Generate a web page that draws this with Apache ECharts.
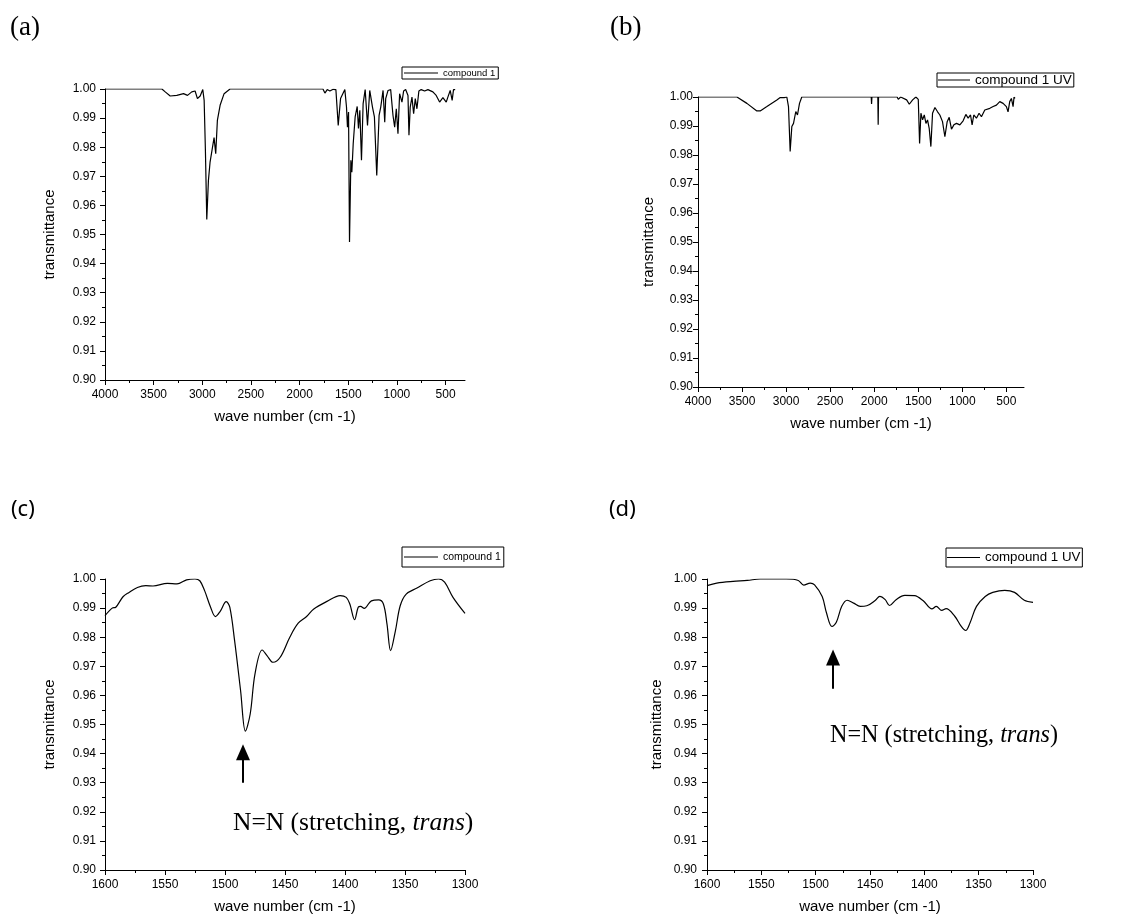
<!DOCTYPE html>
<html>
<head>
<meta charset="utf-8">
<title>FT-IR spectra of compound 1</title>
<script src="https://cdn.jsdelivr.net/npm/echarts@6/dist/echarts.min.js"></script>
<style>
  html, body { margin: 0; padding: 0; background: #ffffff; }
  #chart { width: 1136px; height: 917px; }
</style>
</head>
<body>
<div id="chart"></div>
<script>
// ---------------- spectra (wave number in cm-1, transmittance) ----------------
// (a) compound 1, full range
const wnA = [4000,3700,3450,3415,3381,3330,3262,3193,3152,3108,3074,3050,3022,2995,2981,2968,2954,2937,2920,2903,2879,2862,2845,2817,2776,2715,2100,1760,1740,1716,1689,1655,1627,1603,1579,1535,1518,1508,1497,1487,1473,1463,1449,1429,1408,1395,1381,1364,1347,1326,1302,1279,1251,1231,1207,1183,1166,1142,1125,1115,1091,1064,1040,1023,1006,989,972,948,931,910,886,876,863,845,828,811,794,774,750,715,681,630,596,561,527,493,476,452,432,418,401];
const trA = [1.0,1.0,1.0,1.0,0.999,0.9976,0.9978,0.9984,0.9978,0.999,0.9993,0.9967,0.9976,0.9998,0.9961,0.9789,0.9552,0.9686,0.9749,0.9755,0.9833,0.9778,0.9892,0.9944,0.9984,1.0,1.0,1.0,0.9986,0.9998,0.9993,0.9999,0.9998,0.9875,0.9967,0.9998,0.9938,0.9869,0.9921,0.9474,0.9755,0.9714,0.9812,0.9904,0.994,0.9864,0.9927,0.9755,0.995,0.9998,0.9875,0.9995,0.9938,0.9904,0.9703,0.9909,0.9938,0.9995,0.9886,0.9967,0.9995,0.9998,0.9909,0.9869,0.9932,0.9846,0.9984,0.9955,0.9993,0.9998,0.9978,0.9841,0.9938,0.9972,0.9915,0.9967,0.9932,0.9993,0.9998,0.9993,0.9998,0.999,0.9978,0.9955,0.997,0.9955,0.9972,0.9995,0.9961,0.9998,0.9998];

// (b) compound 1 after UV irradiation, full range
const wnB = [4000,3558,3445,3332,3294,3218,3105,3067,3048,3022,2992,2973,2954,2935,2916,2890,2871,2848,2822,2034,2030,2026,1959,1955,1951,1740,1727,1700,1632,1602,1564,1527,1500,1485,1470,1451,1432,1413,1395,1376,1357,1338,1311,1281,1255,1225,1198,1172,1149,1123,1096,1066,1028,991,960,934,907,889,870,840,810,783,745,688,650,613,575,537,500,481,462,443,424,413,402];
const trB = [1.0,1.0,0.9978,0.9952,0.9952,0.9967,0.999,0.9998,0.9992,0.9998,1.0,0.9967,0.9812,0.9898,0.9909,0.995,0.9938,0.9978,1.0,1.0,0.9976,1.0,1.0,0.9904,1.0,1.0,0.9992,1.0,0.999,0.9975,0.999,1.0,0.9992,0.984,0.9944,0.9921,0.9938,0.9909,0.9921,0.9892,0.9829,0.9944,0.9964,0.9949,0.9938,0.9915,0.9863,0.9915,0.993,0.9889,0.9904,0.9909,0.9904,0.9918,0.994,0.9927,0.9938,0.9904,0.9938,0.9927,0.9944,0.9932,0.9955,0.9961,0.9967,0.9972,0.9984,0.9978,0.9967,0.9949,0.9984,0.9995,0.9967,1.0,0.9995];

// (c) compound 1, 1600-1300 cm-1
const wnC = [1600,1594,1591,1585,1580,1573,1566,1560,1548,1540,1532,1525,1521,1517,1512,1508,1504,1499,1496,1492,1487,1483,1479,1475,1469,1465,1460,1454,1446,1439,1432,1426,1415,1404,1399,1396,1392,1389,1387,1384,1378,1372,1368,1365,1362,1358,1354,1349,1340,1329,1322,1317,1310,1300];
const trC = [0.9874,0.990,0.9903,0.9939,0.9954,0.9971,0.9977,0.9976,0.9985,0.9983,0.9997,1.0,0.9994,0.996,0.9903,0.9871,0.9889,0.9922,0.9903,0.9788,0.9616,0.9477,0.9536,0.9674,0.9756,0.9737,0.9714,0.9731,0.980,0.9848,0.9871,0.9897,0.9923,0.9943,0.9937,0.9914,0.986,0.9903,0.9906,0.9899,0.9925,0.9928,0.9914,0.9845,0.9754,0.9822,0.9908,0.9948,0.9969,0.9994,1.0,0.9989,0.9937,0.9882];

// (d) compound 1 after UV irradiation, 1600-1300 cm-1
const wnD = [1600,1591,1576,1563,1551,1527,1516,1511,1505,1501,1494,1490,1485,1481,1476,1471,1465,1459,1453,1445,1441,1436,1432,1426,1418,1409,1401,1393,1389,1384,1380,1372,1366,1362,1358,1352,1344,1337,1326,1317,1308,1300];
const trD = [0.9977,0.9986,0.9992,0.9995,1.0,1.0,0.9995,0.9979,0.9986,0.998,0.994,0.9883,0.9837,0.9851,0.9906,0.9927,0.9917,0.9906,0.9908,0.9927,0.994,0.9929,0.9909,0.9929,0.9944,0.9943,0.9925,0.9897,0.9906,0.9892,0.9898,0.9872,0.9837,0.9823,0.9849,0.9906,0.994,0.9954,0.9961,0.9954,0.9927,0.992];

// tick values of the wide wave-number axes
const wideMajorTicks = [4000,3500,3000,2500,2000,1500,1000,500];
const wideMinorTicks = [3750,3250,2750,2250,1750,1250,750];

// series names
const nameDark = 'compound 1';
const nameUV = 'compound 1 UV';

// N=N band marker (wave number, arrow tail and head transmittance)
const bandC = { wn: 1485, from: 0.930, to: 0.9405 };
const bandD = { wn: 1484, from: 0.9623, to: 0.9730 };
const bandText = 'N=N (stretching, trans)';

// ---------------- layout ----------------
const SANS = '"Liberation Sans", Arial, sans-serif';
const SERIF = '"Liberation Serif", "Times New Roman", serif';
const grids = [
  { left: 105, top: 89, width: 360, height: 291 },   // (a)
  { left: 698, top: 97, width: 326, height: 290 },   // (b)
  { left: 105, top: 579, width: 360, height: 291 },  // (c)
  { left: 707, top: 579, width: 326, height: 291 }   // (d)
];

const zip = (xs, ys) => xs.slice(0, Math.min(xs.length, ys.length)).map((x, i) => [x, ys[i]]);

const axisLineStyle = { color: '#000', width: 1 };
const tickLabel = { color: '#000', fontSize: 12, fontFamily: SANS };
const titleText = { color: '#000', fontSize: 15, fontFamily: SANS };
const plainNumber = v => String(Math.round(v));

function wideX(gridIndex, labelMargin) {
  return {
    type: 'value', gridIndex, min: 300, max: 4000, inverse: true, position: 'bottom',
    axisLine: { show: true, onZero: false, lineStyle: axisLineStyle },
    axisTick: { show: true, length: 5, customValues: wideMajorTicks, lineStyle: axisLineStyle },
    axisLabel: { show: true, customValues: wideMajorTicks, margin: labelMargin, formatter: plainNumber, ...tickLabel },
    splitLine: { show: false },
    name: 'wave number (cm -1)', nameLocation: 'middle', nameGap: 29, nameTextStyle: titleText
  };
}
function wideXMinor(gridIndex) {
  return {
    type: 'value', gridIndex, min: 300, max: 4000, inverse: true, position: 'bottom',
    axisLine: { show: false, onZero: false },
    axisTick: { show: true, length: 3, customValues: wideMinorTicks, lineStyle: axisLineStyle },
    axisLabel: { show: false },
    splitLine: { show: false }
  };
}
function narrowX(gridIndex) {
  return {
    type: 'value', gridIndex, min: 1300, max: 1600, interval: 50, inverse: true, position: 'bottom',
    axisLine: { show: true, onZero: false, lineStyle: axisLineStyle },
    axisTick: { show: true, length: 5, lineStyle: axisLineStyle },
    minorTick: { show: true, splitNumber: 2, length: 3, lineStyle: axisLineStyle },
    axisLabel: { show: true, margin: 9, formatter: plainNumber, ...tickLabel },
    splitLine: { show: false }, minorSplitLine: { show: false },
    name: 'wave number (cm -1)', nameLocation: 'middle', nameGap: 29, nameTextStyle: titleText
  };
}
function transY(gridIndex, labelMargin, nameGap) {
  return {
    type: 'value', gridIndex, min: 0.9, max: 1.0, interval: 0.01,
    axisLine: { show: true, onZero: false, lineStyle: axisLineStyle },
    axisTick: { show: true, length: 5, lineStyle: axisLineStyle },
    minorTick: { show: true, splitNumber: 2, length: 3, lineStyle: axisLineStyle },
    axisLabel: { show: true, margin: labelMargin, formatter: v => v.toFixed(2), ...tickLabel },
    splitLine: { show: false }, minorSplitLine: { show: false },
    name: 'transmittance', nameLocation: 'middle', nameGap, nameTextStyle: titleText
  };
}

function spectrum(name, xi, yi, data, smooth, extra) {
  return Object.assign({
    type: 'line', name, xAxisIndex: xi, yAxisIndex: yi, data,
    symbol: 'none', showSymbol: false, smooth,
    lineStyle: { color: '#000', width: 1.2 }, itemStyle: { color: '#000' },
    emphasis: { disabled: true }
  }, extra || {});
}

function bandArrow(band) {
  return {
    silent: true, symbol: ['none', 'triangle'], symbolSize: [14, 16],
    lineStyle: { color: '#000', width: 2, type: 'solid' },
    label: { show: false }, emphasis: { disabled: true },
    data: [[{ coord: [band.wn, band.from] }, { coord: [band.wn, band.to] }]]
  };
}

// boxed legend with a plain line sample
function legendBox(left, top, name, fontSize, lineHeight, padding, itemWidth) {
  return {
    left, top, data: [{ name, icon: 'rect' }], selectedMode: false, orient: 'horizontal',
    borderColor: '#000', borderWidth: 1, borderRadius: 0, padding,
    itemWidth, itemHeight: 1, itemGap: 0,
    itemStyle: { color: '#000', borderWidth: 0 },
    textStyle: { color: '#000', fontSize, lineHeight, fontFamily: SANS }
  };
}

function panelLabel(text, x, y, font, size) {
  return {
    type: 'text', x, y, silent: true,
    style: { text, fill: '#000', font: `${size}px ${font}`, verticalAlign: 'middle', align: 'left' }
  };
}
function bandLabel(x, y, size) {
  const parts = bandText.match(/^(.*, )(\w+)(\))$/);
  return {
    type: 'text', x, y, silent: true,
    style: {
      text: `{n|${parts[1]}}{i|${parts[2]}}{n|${parts[3]}}`,
      verticalAlign: 'middle', align: 'left',
      rich: {
        n: { fontFamily: SERIF, fontSize: size, fill: '#000', color: '#000' },
        i: { fontFamily: SERIF, fontSize: size, fontStyle: 'italic', fill: '#000', color: '#000' }
      }
    }
  };
}

const chart = echarts.init(document.getElementById('chart'), null, { renderer: 'canvas' });
chart.setOption({
  backgroundColor: '#ffffff',
  animation: false,
  grid: grids.map(g => Object.assign({ containLabel: false, show: false }, g)),
  xAxis: [wideX(0, 9), wideX(1, 9), narrowX(2), narrowX(3), wideXMinor(0), wideXMinor(1)],
  yAxis: [transY(0, 9, 48), transY(1, 5, 42), transY(2, 9, 48), transY(3, 10, 43)],
  legend: [
    legendBox(402, 67, nameDark, 9.5, 9, [1, 3, 1, 2], 34),
    legendBox(937, 73, nameUV, 13.5, 11, [0, 2, 0, 1], 32),
    legendBox(402, 547, nameDark, 10.5, 12, [4, 3, 4, 2], 34),
    legendBox(946, 548, nameUV, 13.3, 13, [3, 2, 3, 1], 33)
  ],
  series: [
    spectrum(nameDark, 0, 0, zip(wnA, trA), false),
    spectrum(nameUV, 1, 1, zip(wnB, trB), false),
    spectrum(nameDark, 2, 2, zip(wnC, trC), 0.35, { markLine: bandArrow(bandC) }),
    spectrum(nameUV, 3, 3, zip(wnD, trD), 0.35, { markLine: bandArrow(bandD) })
  ],
  graphic: [
    panelLabel('(a)', 10, 28, SERIF, 27),
    panelLabel('(b)', 610, 28, SERIF, 27),
    panelLabel('(c)', 11, 510, '"Noto Sans", "Open Sans", sans-serif', 22),
    panelLabel('(d)', 609, 510, '"Noto Sans", "Open Sans", sans-serif', 22),
    bandLabel(233, 823, 25.5),
    bandLabel(830, 736, 24.2)
  ]
});
</script>
</body>
</html>
